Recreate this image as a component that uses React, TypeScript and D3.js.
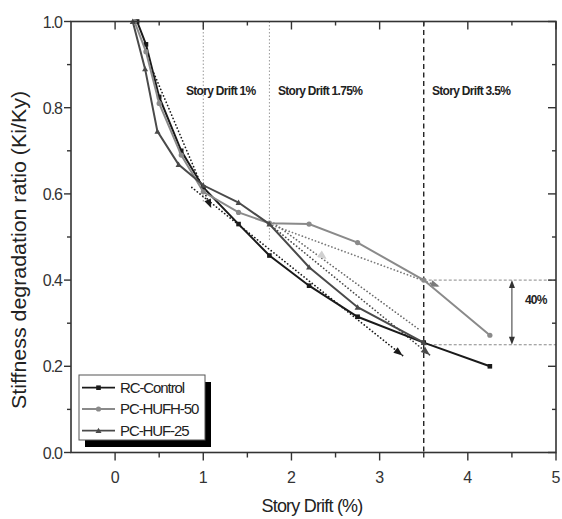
import React from 'react';
import * as d3 from 'd3';

// ---- data ----
const rcX = [0.25, 0.35, 0.5, 0.75, 1.0, 1.4, 1.75, 2.2, 2.75, 3.5, 4.25];
const rcY = [1.0, 0.947, 0.825, 0.7, 0.615, 0.53, 0.457, 0.387, 0.315, 0.255, 0.2];
const hufhX = [0.22, 0.35, 0.5, 0.75, 1.0, 1.4, 1.75, 2.2, 2.75, 3.5, 4.25];
const hufhY = [1.0, 0.93, 0.81, 0.69, 0.605, 0.557, 0.532, 0.53, 0.487, 0.4, 0.272];
const hufX = [0.2, 0.34, 0.48, 0.72, 1.0, 1.4, 1.75, 2.2, 2.75, 3.5];
const hufY = [1.0, 0.89, 0.745, 0.668, 0.62, 0.58, 0.53, 0.43, 0.337, 0.255];

const seriesNames = ['RC-Control', 'PC-HUFH-50', 'PC-HUF-25'];

// tangent (dotted) arrows: start x/y, end x/y
const tanX0 = [0.44, 0.87, 1.75, 1.75, 1.8];
const tanY0 = [0.88, 0.615, 0.53, 0.53, 0.532];
const tanX1 = [1.09, 3.26, 3.68, 3.57, 3.45];
const tanY1 = [0.567, 0.225, 0.385, 0.226, 0.285];
const tanHead = [true, true, true, true, false];
const tanColor = ['#1a1a1a', '#1a1a1a', '#7a7a7a', '#4a4a4a', '#6a6a6a'];
// extra light arrow head
const lightHeadFrom = [2.2, 0.479];
const lightHeadTo = [2.4, 0.449];

const driftLevels = [1, 1.75, 3.5];
const driftLabels = ['Story Drift 1%', 'Story Drift 1.75%', 'Story Drift 3.5%'];
const driftLineBottom = [0.58, 0.49, 0];
const levelLines = [0.4, 0.25];
const levelArrowX = 4.5;

const xMajor = [0, 1, 2, 3, 4, 5];
const xMinor = [0.5, 1.5, 2.5, 3.5, 4.5];
const yMajor = [0, 0.2, 0.4, 0.6, 0.8, 1.0];
const yMinor = [0.1, 0.3, 0.5, 0.7, 0.9];

const W = 562, H = 519;
const L = 71, R = 556, T = 21.5, B = 452.5;
const FONT = '"Liberation Sans", Arial, sans-serif';

function headPath(x0: number, y0: number, x1: number, y1: number, len = 9, half = 3.5) {
  const a = Math.atan2(y1 - y0, x1 - x0);
  const bx = x1 - len * Math.cos(a), by = y1 - len * Math.sin(a);
  const px = -Math.sin(a) * half, py = Math.cos(a) * half;
  return `M${x1},${y1}L${bx + px},${by + py}L${bx - px},${by - py}Z`;
}

export default function App() {
  const x = d3.scaleLinear().domain([-0.5, 5]).range([L, R]);
  const y = d3.scaleLinear().domain([0, 1]).range([B, T]);
  const line = d3.line<[number, number]>().x(d => x(d[0])).y(d => y(d[1]));

  const rc = rcX.map((v, i) => [v, rcY[i]] as [number, number]);
  const hufh = hufhX.map((v, i) => [v, hufhY[i]] as [number, number]);
  const huf = hufX.map((v, i) => [v, hufY[i]] as [number, number]);
  const colors = ['#1a1a1a', '#8a8a8a', '#4a4a4a'];

  const square = (cx: number, cy: number, c: string, k: string) => (
    <rect key={k} x={cx - 2.3} y={cy - 2.3} width={4.6} height={4.6} fill={c} />
  );
  const circle = (cx: number, cy: number, c: string, k: string) => (
    <circle key={k} cx={cx} cy={cy} r={2.6} fill={c} />
  );
  const tri = (cx: number, cy: number, c: string, k: string) => (
    <path key={k} d={`M${cx},${cy - 3}L${cx + 3},${cy + 2.4}L${cx - 3},${cy + 2.4}Z`} fill={c} />
  );
  const markers = [square, circle, tri];

  const lx0 = 82, lx1 = 115, legY = [387.7, 409, 430.7];

  return (
    <svg width={W} height={H} style={{ position: 'absolute', left: 0, top: 0, background: '#fff' }} fontFamily={FONT}>
      <rect x={0} y={0} width={W} height={H} fill="#fff" />

      {/* drift guide lines */}
      {driftLevels.map((d, i) => (
        <line key={'dl' + i} x1={x(d)} x2={x(d)} y1={y(1)} y2={y(driftLineBottom[i])}
          stroke={i < 2 ? '#999' : '#222'} strokeWidth={i < 2 ? 1 : 1.4}
          strokeDasharray={i < 2 ? '1.5,2' : '5,3.5'} />
      ))}
      {levelLines.map((v, i) => (
        <line key={'ll' + i} x1={x(3.5)} x2={x(5)} y1={y(v)} y2={y(v)} stroke="#888" strokeWidth={1} strokeDasharray="3,2" />
      ))}
      <line x1={x(levelArrowX)} x2={x(levelArrowX)} y1={y(levelLines[0]) + 7} y2={y(levelLines[1]) - 7} stroke="#333" strokeWidth={1} />
      <path d={headPath(x(levelArrowX), y(0.33), x(levelArrowX), y(levelLines[0]), 8, 3)} fill="#333" />
      <path d={headPath(x(levelArrowX), y(0.33), x(levelArrowX), y(levelLines[1]), 8, 3)} fill="#333" />
      <text x={x(4.77)} y={y(0.353) + 4} fontSize={12} fontWeight="bold" textAnchor="middle" letterSpacing={-0.8} fill="#222">40%</text>

      {/* tangent dotted lines */}
      {tanX0.map((v, i) => {
        const X0 = x(v), Y0 = y(tanY0[i]), X1 = x(tanX1[i]), Y1 = y(tanY1[i]);
        return (
          <g key={'t' + i}>
            <line x1={X0} y1={Y0} x2={X1} y2={Y1} stroke={tanColor[i]} strokeWidth={1.7}
              strokeDasharray="0.1,3.4" strokeLinecap="round" />
            {tanHead[i] && <path d={headPath(X0, Y0, X1, Y1)} fill={tanColor[i]} />}
          </g>
        );
      })}
      <path d={headPath(x(lightHeadFrom[0]), y(lightHeadFrom[1]), x(lightHeadTo[0]), y(lightHeadTo[1]), 9, 4)} fill="#d0d0d0" />

      {/* series */}
      {[rc, hufh, huf].map((s, si) => (
        <g key={'s' + si}>
          <path d={line(s) || ''} fill="none" stroke={colors[si]} strokeWidth={2} />
          {s.map((p, pi) => markers[si](x(p[0]), y(p[1]), colors[si], si + '-' + pi))}
        </g>
      ))}

      {/* annotations */}
      {driftLabels.map((t, i) => (
        <text key={'dt' + i} x={[186, 278, 432][i]} y={95} fontSize={12} fontWeight="bold" letterSpacing={-0.7} fill="#222">{t}</text>
      ))}

      {/* frame */}
      <rect x={L} y={T} width={R - L} height={B - T} fill="none" stroke="#333" strokeWidth={1.6} />

      {/* ticks */}
      {xMajor.map(v => <line key={'xb' + v} x1={x(v)} x2={x(v)} y1={B} y2={B + 8} stroke="#333" strokeWidth={1.4} />)}
      {xMinor.map(v => <line key={'xbm' + v} x1={x(v)} x2={x(v)} y1={B} y2={B + 5} stroke="#333" strokeWidth={1.4} />)}
      {xMajor.map(v => <line key={'xt' + v} x1={x(v)} x2={x(v)} y1={T} y2={T + 8} stroke="#333" strokeWidth={1.4} />)}
      {xMinor.map(v => <line key={'xtm' + v} x1={x(v)} x2={x(v)} y1={T} y2={T + 4} stroke="#333" strokeWidth={1.4} />)}
      {yMajor.map(v => <line key={'yl' + v} x1={L - 7} x2={L} y1={y(v)} y2={y(v)} stroke="#333" strokeWidth={1.4} />)}
      {yMinor.map(v => <line key={'ylm' + v} x1={L - 4} x2={L} y1={y(v)} y2={y(v)} stroke="#333" strokeWidth={1.4} />)}
      {yMajor.map(v => <line key={'yr' + v} x1={R - 8} x2={R} y1={y(v)} y2={y(v)} stroke="#333" strokeWidth={1.4} />)}
      {yMinor.map(v => <line key={'yrm' + v} x1={R - 4} x2={R} y1={y(v)} y2={y(v)} stroke="#333" strokeWidth={1.4} />)}

      {xMajor.map(v => (
        <text key={'xl' + v} x={x(v)} y={483} fontSize={16} textAnchor="middle" fill="#333">{v}</text>
      ))}
      {yMajor.map(v => (
        <text key={'ylb' + v} x={62} y={y(v) + 6} fontSize={16} textAnchor="end" letterSpacing={-1} fill="#333">{v.toFixed(1)}</text>
      ))}

      <text x={312} y={512} fontSize={18} textAnchor="middle" letterSpacing={-0.8} fill="#222">Story Drift (%)</text>
      <text transform={`translate(26,250) rotate(-90)`} fontSize={20} textAnchor="middle" fill="#222"
        textLength={318} lengthAdjust="spacingAndGlyphs">
        Stiffness degradation ratio (Ki/Ky)
      </text>

      {/* legend */}
      <rect x={85} y={382} width={126} height={65} fill="#000" />
      <rect x={79} y={375} width={126} height={65} fill="#fff" stroke="#555" strokeWidth={1} />
      {seriesNames.map((n, i) => (
        <g key={'lg' + i}>
          <line x1={lx0} x2={lx1} y1={legY[i]} y2={legY[i]} stroke={colors[i]} strokeWidth={1.8} />
          {markers[i]((lx0 + lx1) / 2, legY[i], colors[i], 'lm' + i)}
          <text x={120} y={legY[i] + 5} fontSize={15} letterSpacing={-1.1} fill="#222">{n}</text>
        </g>
      ))}
    </svg>
  );
}
